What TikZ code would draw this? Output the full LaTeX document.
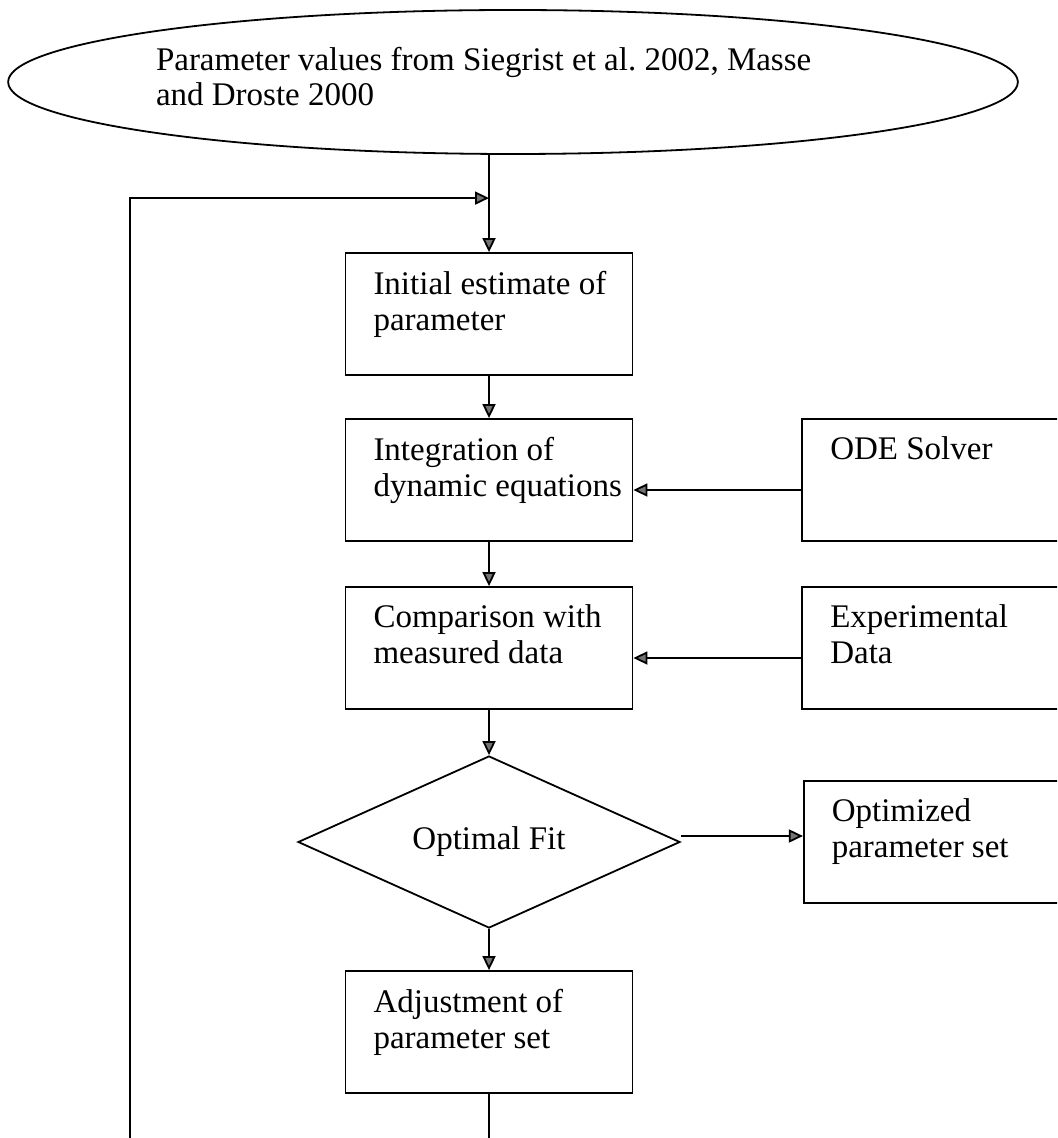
\documentclass[tikz,border=0pt]{standalone}
\usepackage{fontspec}
\setmainfont{Liberation Serif}
\usetikzlibrary{trees,positioning,shapes.geometric,arrows.meta}

\newcommand{\boxtext}[1]{\hspace{14pt}\parbox[t][43pt][t]{129.5pt}{\raggedright #1}}
\frenchspacing

\begin{document}
\begin{tikzpicture}[
  grow=down,
  level 1/.style={level distance=83pt},
  level 2/.style={level distance=84pt},
  level 3/.style={level distance=97pt},
  level 4/.style={level distance=95pt},
  every node/.style={font=\fontsize{16.5}{18}\selectfont},
  block/.style={draw,rectangle,line width=0.9pt,minimum width=143.5pt,minimum height=61pt,inner xsep=0pt,inner ysep=9pt},
  sidebox/.style={block,minimum width=140pt,minimum height=60pt},
  decision/.style={draw,diamond,aspect=2.2,line width=0.9pt,minimum width=191pt,minimum height=86pt,inner sep=0pt},
  source/.style={draw,ellipse,line width=0.9pt,minimum width=503pt,minimum height=72pt,inner sep=0pt},
  every child node/.style={block},
  edge from parent/.style={draw,line width=0.9pt,-{Triangle[length=7pt,width=6.5pt,fill=black!55]}},
  flow/.style={line width=0.9pt,-{Triangle[length=7pt,width=6.5pt,fill=black!55]}}
]
  \useasboundingbox (0,0) rectangle (528.5pt,-569pt);
  \clip (0,0) rectangle (528.5pt,-569pt);

  \node[source] (param) at (256.5pt,-41pt) {\parbox[c][34.5pt][t]{357pt}{\baselineskip=17.5pt
    Parameter values from Siegrist et al. 2002, Masse\\and Droste 2000}};

  \node[block] (init) at (244.5pt,-157pt) {\boxtext{Initial estimate of\\parameter}}
    child {node (int) {\boxtext{Integration of\\dynamic equations}}
      child {node (comp) {\boxtext{Comparison with\\measured data}}
        child {node[decision] (fit) {Optimal Fit}
          child {node (adj) {\boxtext{Adjustment of\\parameter set}}}
        }
      }
    };

  \node[sidebox,right=84pt of int] (ode) {\boxtext{ODE Solver}};
  \node[sidebox,right=84pt of comp] (exper) {\boxtext{Experimental\\Data}};
  \node[sidebox,right=61pt of fit] (opt) {\boxtext{Optimized\\parameter set}};

  % loop back to the start
  \coordinate (merge) at ([yshift=27pt]init.north);
  \draw[flow] (init.north |- param.south) -- (init.north);
  \draw[flow] (adj.south) -- ++(0,-40pt) -| ([xshift=-179.5pt]merge) -- (merge);

  \draw[flow] ([yshift=-5pt]ode.west) -- ([yshift=-5pt]int.east);
  \draw[flow] ([yshift=-5pt]exper.west) -- ([yshift=-5pt]comp.east);
  \draw[flow] ([yshift=3pt]fit.east) -- ([yshift=3pt]opt.west);
\end{tikzpicture}
\end{document}
